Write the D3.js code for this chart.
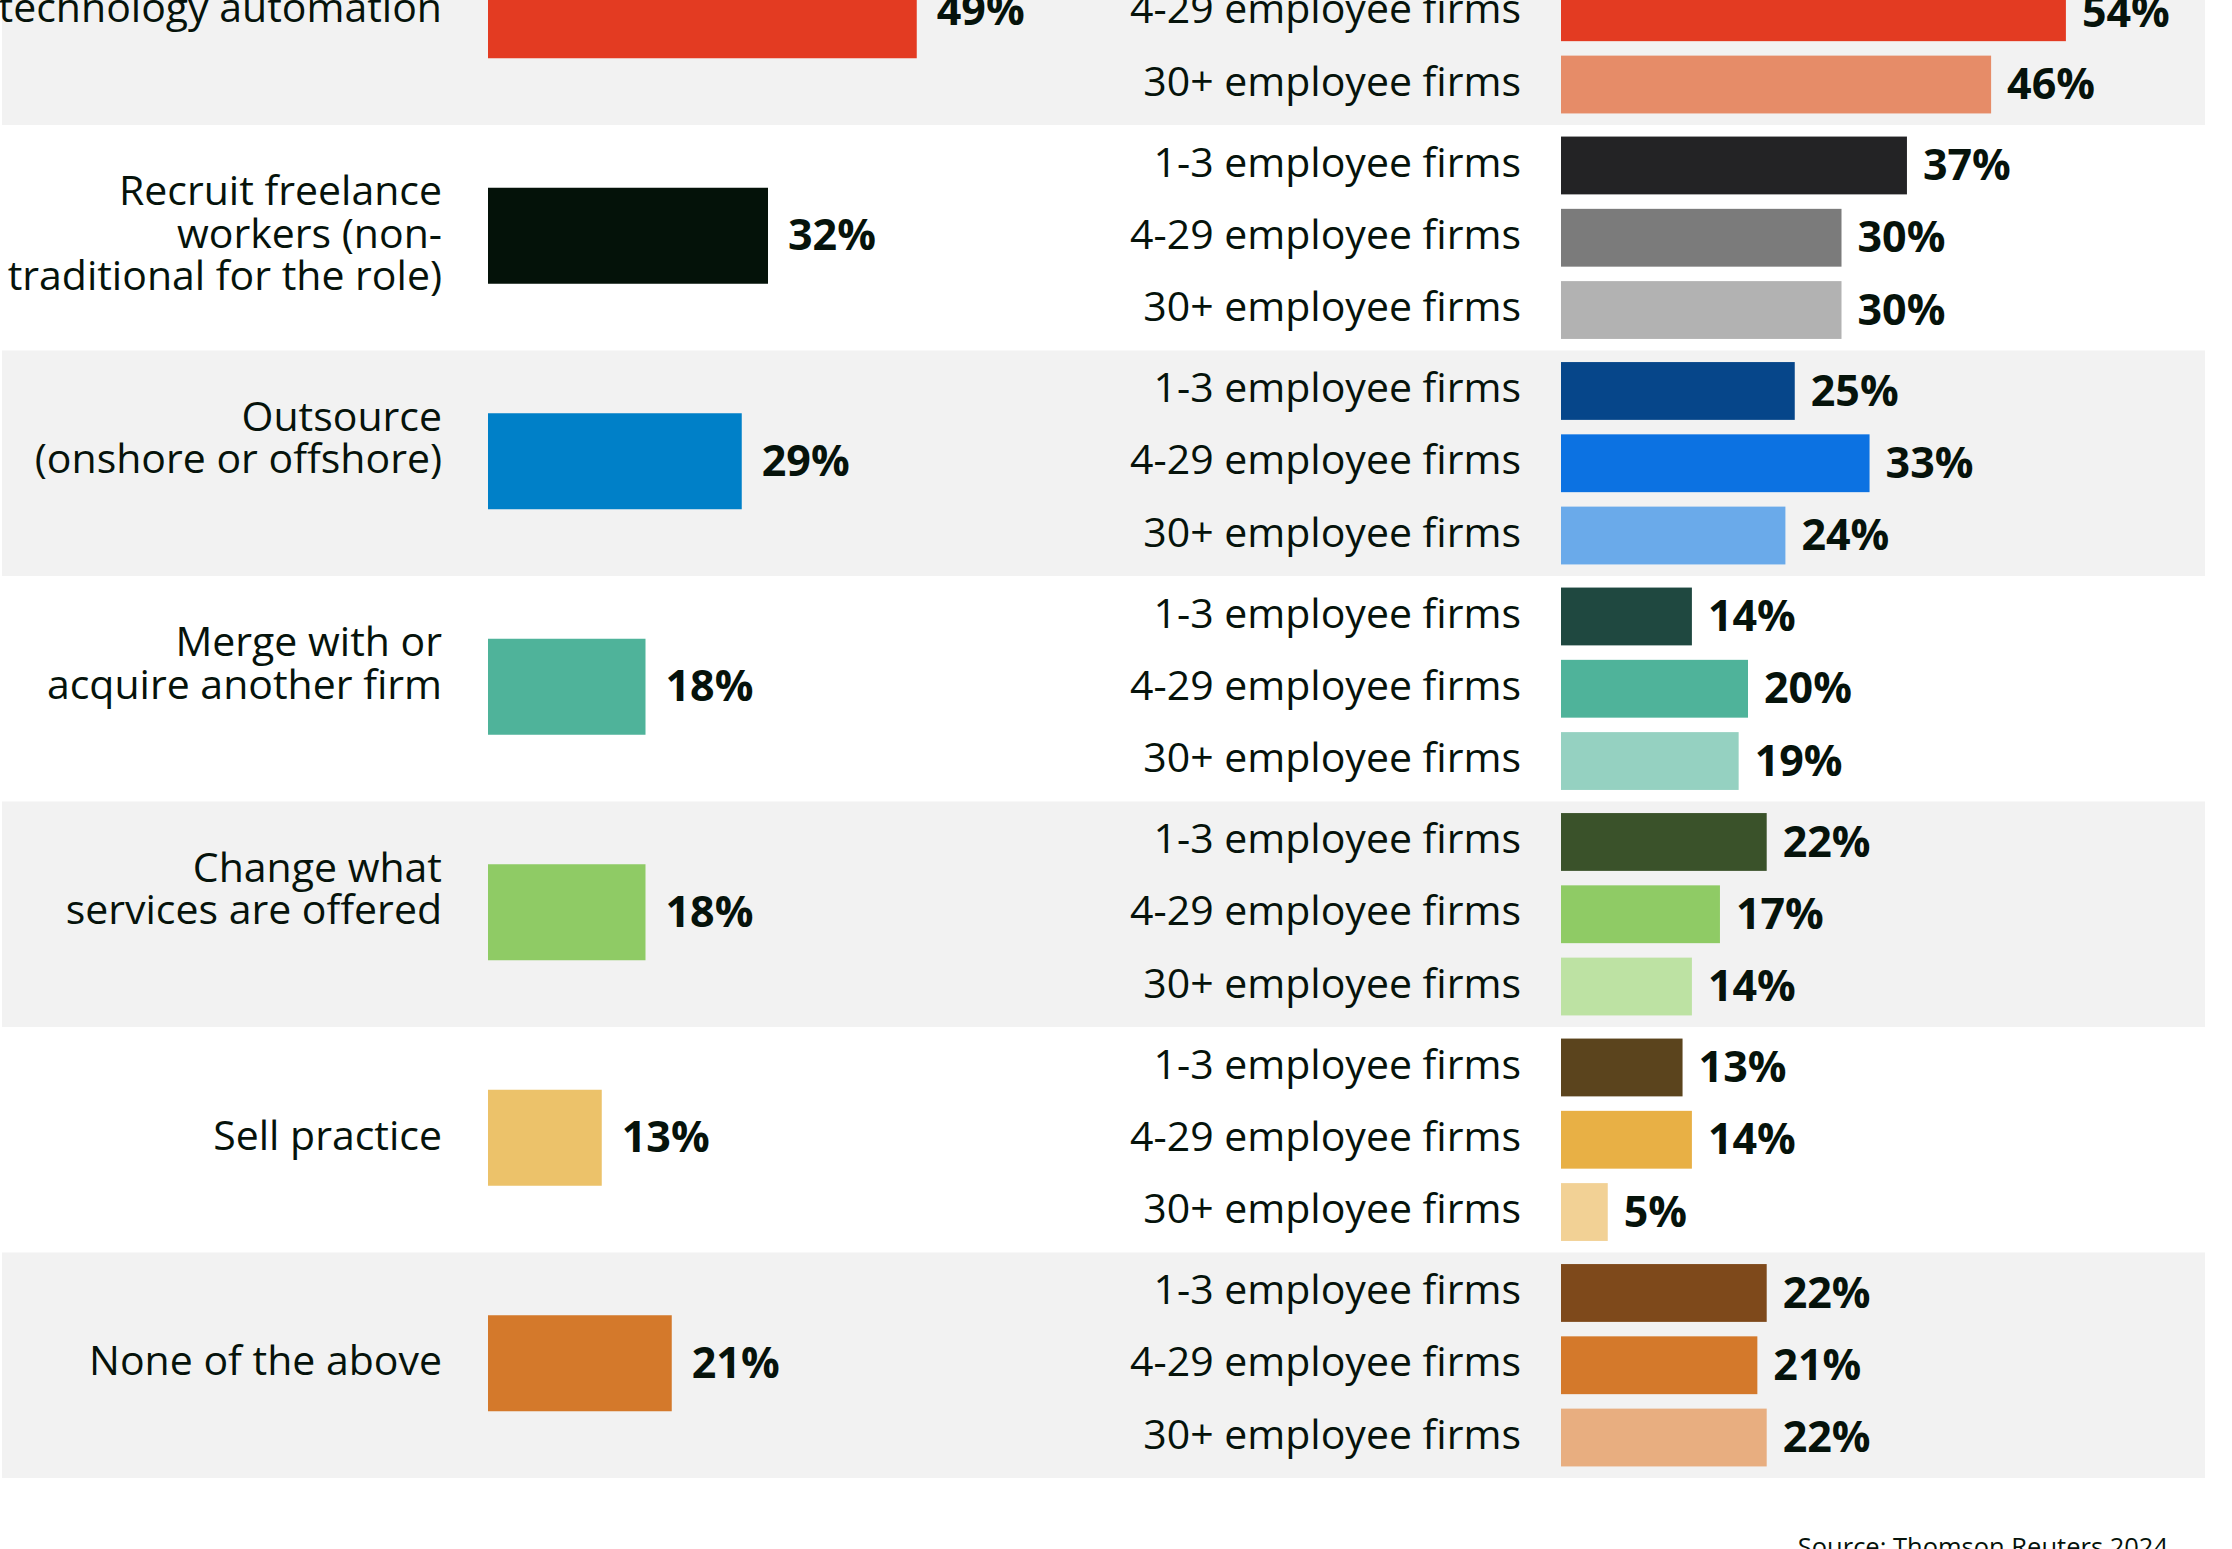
<!DOCTYPE html>
<html>
<head>
<meta charset="utf-8">
<script src="https://cdn.jsdelivr.net/npm/d3@7"></script>
<style>
  body { margin: 0; background: #ffffff; }
  svg { display: block; font-family: "Open Sans", Roboto, sans-serif; }
  .cat-label, .sub-label { font-size: 41px; fill: #06130b; }
  .value-label { font-size: 43px; font-weight: 700; fill: #06130b; }
  .source { font-size: 25.5px; fill: #06130b; }
</style>
</head>
<body>
<svg width="2232" height="1549"></svg>
<script>
var svg = d3.select("svg");
var width = 2232;
var height = 1549;

// The picture is a crop: first row starts above the top edge
var rowsTop = -100.5;
var rowsBottom = 1478;

// ---- data ----
var categories = [
  "technology automation",
  "Recruit freelance workers (non-traditional for the role)",
  "Outsource (onshore or offshore)",
  "Merge with or acquire another firm",
  "Change what services are offered",
  "Sell practice",
  "None of the above"
];
var categoryLines = [
  ["technology automation"],
  ["Recruit freelance", "workers (non-", "traditional for the role)"],
  ["Outsource", "(onshore or offshore)"],
  ["Merge with or", "acquire another firm"],
  ["Change what", "services are offered"],
  ["Sell practice"],
  ["None of the above"]
];
var totalValues = [49, 32, 29, 18, 18, 13, 21];

var firmSizes = ["1-3 employee firms", "4-29 employee firms", "30+ employee firms"];
// first row's 1-3 bar sits outside the crop, so it is not drawn
var sizeValues = [
  [null, 54, 46],
  [37, 30, 30],
  [25, 33, 24],
  [14, 20, 19],
  [22, 17, 14],
  [13, 14, 5],
  [22, 21, 22]
];

var totalColors = ["#e33b22", "#041209", "#0080c8", "#4fb39a", "#8fcb65", "#ecc26a", "#d4792b"];
var sizeColors = [
  ["#9b2514", "#e33b22", "#e68c68"],
  ["#232325", "#7b7b7b", "#b2b2b2"],
  ["#06468a", "#0c72e2", "#6aaaea"],
  ["#1f4840", "#4fb39a", "#95d1c1"],
  ["#3a522a", "#8fcb65", "#bde2a3"],
  ["#5b441d", "#e8b045", "#f2d195"],
  ["#7e491b", "#d4792b", "#e8ae80"]
];

var sourceText = "Source: Thomson Reuters 2024";

// ---- scales ----
var y = d3.scaleBand()
    .domain(categories)
    .range([rowsTop, rowsBottom]);

var xLeft = d3.scaleLinear()
    .domain([0, 100])
    .range([488, 488 + 875]);

var xRight = d3.scaleLinear()
    .domain([0, 100])
    .range([1561, 1561 + 935]);

var ySub = d3.scaleBand()
    .domain(firmSizes)
    .range([0, y.bandwidth()])
    .paddingInner(0.2)
    .paddingOuter(0.16);

var leftBarHeight = 96;
var lineHeight = 42.5;

var rows = categories.map(function(c, i) {
  return {
    name: c,
    lines: categoryLines[i],
    total: totalValues[i],
    color: totalColors[i],
    subs: firmSizes.map(function(s, j) {
      return { size: s, value: sizeValues[i][j], color: sizeColors[i][j] };
    })
  };
});

// alternating grey bands
svg.selectAll("rect.band")
  .data(rows.filter(function(d, i) { return i % 2 === 0; }))
  .enter()
  .append("rect")
  .attr("class", "band")
  .attr("x", 2)
  .attr("y", d => y(d.name))
  .attr("width", 2205 - 2)
  .attr("height", y.bandwidth())
  .attr("fill", "#f2f2f2");

var row = svg.selectAll("g.row")
  .data(rows)
  .enter()
  .append("g")
  .attr("class", "row")
  .attr("transform", d => "translate(0," + y(d.name) + ")");

var mid = y.bandwidth() / 2 - 2;

// category label (right aligned, multi-line; 2nd line sits on the bar centre)
row.append("text")
  .attr("class", "cat-label")
  .attr("text-anchor", "end")
  .each(function(d) {
    var t = d3.select(this);
    var n = d.lines.length;
    var anchorLine = Math.min(1, n - 1);
    d.lines.forEach(function(line, k) {
      t.append("tspan")
        .attr("x", 442)
        .attr("y", mid + 12 + (k - anchorLine) * lineHeight)
        .text(line);
    });
  });

// overall bar
row.append("rect")
  .attr("x", xLeft(0))
  .attr("y", mid - leftBarHeight / 2)
  .attr("width", d => xLeft(d.total) - xLeft(0))
  .attr("height", leftBarHeight)
  .attr("fill", d => d.color);

row.append("text")
  .attr("class", "value-label")
  .attr("x", d => xLeft(d.total) + 20)
  .attr("y", mid)
  .attr("dy", "0.34em")
  .text(d => d.total + "%");

// firm size breakdown
var sub = row.selectAll("g.sub")
  .data(d => d.subs)
  .enter()
  .append("g")
  .attr("class", "sub")
  .attr("transform", d => "translate(0," + ySub(d.size) + ")");

sub.append("text")
  .attr("class", "sub-label")
  .attr("text-anchor", "end")
  .attr("x", 1521)
  .attr("y", ySub.bandwidth() / 2)
  .attr("dy", "0.27em")
  .text(d => d.size);

sub.filter(d => d.value !== null)
  .append("rect")
  .attr("x", xRight(0))
  .attr("y", 0)
  .attr("width", d => xRight(d.value) - xRight(0))
  .attr("height", ySub.bandwidth())
  .attr("fill", d => d.color);

sub.filter(d => d.value !== null)
  .append("text")
  .attr("class", "value-label")
  .attr("x", d => xRight(d.value) + 16)
  .attr("y", ySub.bandwidth() / 2)
  .attr("dy", "0.34em")
  .text(d => d.value + "%");

// source note, partly cut by the bottom edge
svg.append("text")
  .attr("class", "source")
  .attr("text-anchor", "end")
  .attr("x", 2168)
  .attr("y", 1556)
  .text(sourceText);
</script>
</body>
</html>
